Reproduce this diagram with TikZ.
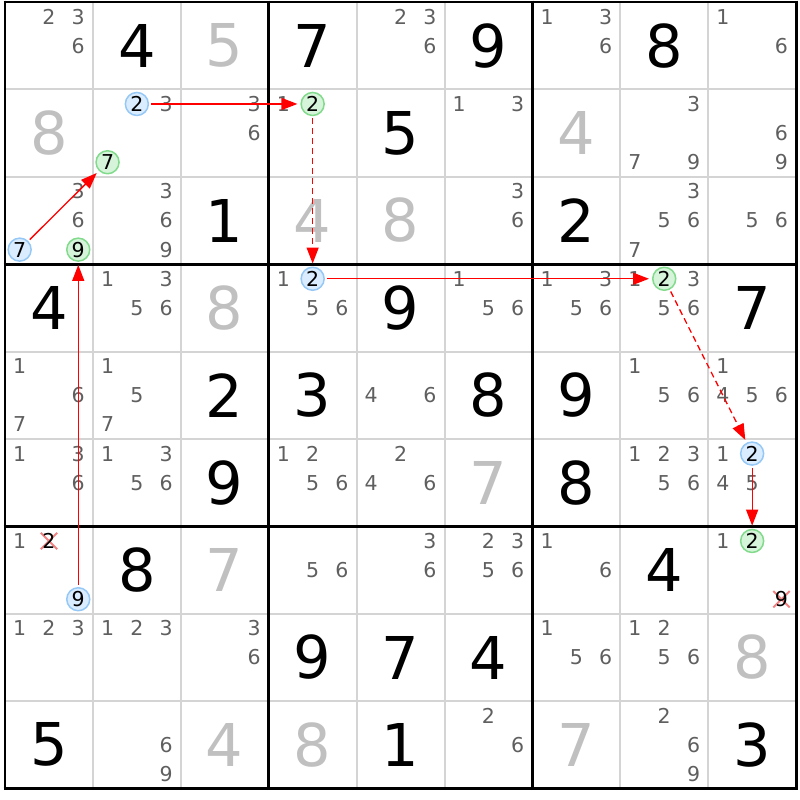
\documentclass[tikz,border=0pt]{standalone}
\usepackage{fontspec}
\setmainfont{DejaVu Sans}
\usetikzlibrary{arrows.meta}

\definecolor{candgray}{RGB}{95,95,95}
\definecolor{placedgray}{RGB}{192,192,192}
\definecolor{thingray}{RGB}{212,212,212}
\definecolor{bluefill}{RGB}{218,236,255}
\definecolor{bluering}{RGB}{150,200,245}
\definecolor{greenfill}{RGB}{214,244,218}
\definecolor{greenring}{RGB}{130,218,140}
\definecolor{crossred}{RGB}{242,130,130}

\newcommand{\candfont}{\fontsize{20.5}{20.5}\selectfont}
\newcommand{\givenfont}{\fontsize{59}{59}\selectfont}

\tikzset{
  cand/.style={inner sep=0pt, text=candgray, font=\candfont},
  given/.style={inner sep=0pt, text=black, font=\givenfont},
  placed/.style={inner sep=0pt, text=placedgray, font=\givenfont},
  bluemark/.style={circle, inner sep=0pt, minimum size=23pt, draw=bluering, fill=bluefill, line width=1.5pt, font=\candfont},
  greenmark/.style={circle, inner sep=0pt, minimum size=23pt, draw=greenring, fill=greenfill, line width=1.5pt, font=\candfont},
  struck/.style={inner sep=0pt, minimum size=16pt, font=\candfont},
  link/.style={red, line width=1.3pt, -{Triangle[length=16pt,width=12pt]}, shorten >=3pt, shorten <=2pt},
  weaklink/.style={link, dash pattern=on 6pt off 4pt},
}

\begin{document}
\begin{tikzpicture}[x=87.9pt,y=-87.4pt]

\useasboundingbox (-0.0569,-0.0229) rectangle (9.0444,9.1304);

\foreach \i in {1,2,4,5,7,8} {
  \draw[thingray, line width=2pt] (\i,0) -- (\i,9);
  \draw[thingray, line width=2pt] (0,\i) -- (9,\i);
}
\foreach \i in {0,3,6,9} {
  \draw[line width=2.8pt] (\i,-0.016) -- (\i,9.016);
  \draw[line width=2.8pt] (-0.016,\i) -- (9.016,\i);
}

\foreach \r/\c/\v in {0/1/4, 0/3/7, 0/5/9, 0/7/8, 1/4/5, 2/2/1, 2/6/2,
    3/0/4, 3/4/9, 3/8/7, 4/2/2, 4/3/3, 4/5/8, 4/6/9, 5/2/9, 5/6/8,
    6/1/8, 6/7/4, 7/3/9, 7/4/7, 7/5/4, 8/0/5, 8/4/1, 8/8/3}
  \node[given] (v\r\c) at (\c+0.5,\r+0.5) {\v};

\foreach \r/\c/\v in {0/2/5, 1/0/8, 1/6/4, 2/3/4, 2/4/8, 3/2/8, 5/5/7,
    6/2/7, 7/8/8, 8/2/4, 8/3/8, 8/6/7}
  \node[placed] (v\r\c) at (\c+0.5,\r+0.5) {\v};

\foreach \r/\c/\ds in {0/0/{2,3,6}, 0/4/{2,3,6}, 0/6/{1,3,6}, 0/8/{1,6},
    1/1/{3}, 1/2/{3,6}, 1/3/{1}, 1/5/{1,3}, 1/7/{3,7,9}, 1/8/{6,9},
    2/0/{3,6}, 2/1/{3,6,9}, 2/5/{3,6}, 2/7/{3,5,6,7}, 2/8/{5,6},
    3/1/{1,3,5,6}, 3/3/{1,5,6}, 3/5/{1,5,6}, 3/6/{1,3,5,6}, 3/7/{1,3,5,6},
    4/0/{1,6,7}, 4/1/{1,5,7}, 4/4/{4,6}, 4/7/{1,5,6}, 4/8/{1,4,5,6},
    5/0/{1,3,6}, 5/1/{1,3,5,6}, 5/3/{1,2,5,6}, 5/4/{2,4,6}, 5/7/{1,2,3,5,6}, 5/8/{1,4,5},
    6/0/{1}, 6/3/{5,6}, 6/4/{3,6}, 6/5/{2,3,5,6}, 6/6/{1,6}, 6/8/{1},
    7/0/{1,2,3}, 7/1/{1,2,3}, 7/2/{3,6}, 7/6/{1,5,6}, 7/7/{1,2,5,6},
    8/1/{6,9}, 8/5/{2,6}, 8/7/{2,6,9}}
  \foreach \d in \ds {
    \pgfmathsetmacro\cx{\c+(2*mod(\d-1,3)+1)/6}
    \pgfmathsetmacro\cy{\r+(2*floor((\d-1)/3)+1)/6}
    \node[cand] (n\r\c\d) at (\cx,\cy) {\d};
  }

\node[struck] (x2) at (0.5,6.1667) {};
\draw[crossred, line width=2pt] (x2.north west) -- (x2.south east);
\draw[crossred, line width=2pt] (x2.north east) -- (x2.south west);
\node[struck] at (x2) {2};
\node[struck] (x9) at (8.8333,6.8333) {};
\draw[crossred, line width=2pt] (x9.north west) -- (x9.south east);
\draw[crossred, line width=2pt] (x9.north east) -- (x9.south west);
\node[struck] at (x9) {9};

\node[bluemark] (b7) at (0.1667,2.8333) {7};
\node[greenmark] (g7) at (1.1667,1.8333) {7};
\node[bluemark] (b2a) at (1.5,1.1667) {2};
\node[greenmark] (g2a) at (3.5,1.1667) {2};
\node[bluemark] (b2b) at (3.5,3.1667) {2};
\node[greenmark] (g2b) at (7.5,3.1667) {2};
\node[bluemark] (b2c) at (8.5,5.1667) {2};
\node[greenmark] (g2c) at (8.5,6.1667) {2};
\node[bluemark] (b9) at (0.8333,6.8333) {9};
\node[greenmark] (g9) at (0.8333,2.8333) {9};

\draw[link] (b7) -- (g7);
\draw[link] (b2a) -- (g2a);
\draw[weaklink] (g2a) -- (b2b);
\draw[link] (b2b) -- (g2b);
\draw[weaklink] (g2b) -- (b2c);
\draw[link] (b2c) -- (g2c);
\draw[link] (b9) -- (g9);

\end{tikzpicture}
\end{document}
